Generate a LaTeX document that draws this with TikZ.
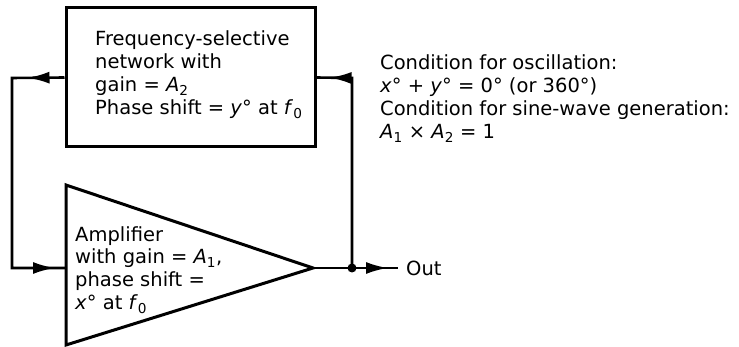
\documentclass[tikz,border=0pt]{standalone}
\usepackage{fontspec}
\setmainfont{DejaVu Sans}
\usetikzlibrary{arrows.meta,positioning,decorations.markings}

\newcommand{\ix}[2]{\textit{#1}\textsubscript{#2}}
\newcommand{\fbtip}{\arrow{Latex[length=22pt,width=12pt]}}

\begin{document}
\begin{tikzpicture}[x=1pt, y=-1pt]
    % Define styles
    \tikzstyle{block} = [draw=black, line width=3pt]
    \tikzstyle{wire} = [draw=black, line width=2.6pt, postaction=decorate]
    \tikzstyle{txt} = [inner sep=0pt, align=left, font=\fontsize{19.5}{23}\selectfont]

    \useasboundingbox (0,0) rectangle (739,347);

    % Frequency-selective network
    \node [block, rectangle, minimum width=249pt, minimum height=139pt] (filter) at (190.5,77.5) {};
    \node [txt, anchor=base west] (filtertext) at (95,115)
        {Frequency-selective\\network with\\gain = \ix{A}{2}\\Phase shift = \textit{y}° at \ix{f}{0}};

    % Amplifier
    \coordinate (amptop) at (66,185);
    \coordinate (ampbot) at (66,345);
    \coordinate (apex) at (313,268);
    \coordinate (ampin) at (66,268);
    \draw [block, line join=miter] (amptop) -- (apex) -- (ampbot) -- cycle;
    \node [txt, anchor=base west] (amptext) at (75,310)
        {Amplifier\\with gain = \ix{A}{1},\\phase shift =\\\textit{x}° at \ix{f}{0}};

    % Corners and junction
    \coordinate (tl) at (12,78);
    \coordinate (bl) at (12,268);
    \coordinate (tr) at (352,78);
    \coordinate (dot) at (352,268);
    \node [txt, anchor=west, inner xsep=8pt] (out) at (398,268) {Out};

    % Conditions
    \node [txt, anchor=base west] (conditions) at (380,139)
        {Condition for oscillation:\\\textit{x}° + \textit{y}° = 0° (or 360°)\\Condition for sine-wave generation:\\\ix{A}{1} × \ix{A}{2} = 1};

    % Connections
    \draw [wire, decoration={markings, mark=at position 37pt with {\fbtip}, mark=at position -11pt with {\fbtip}}]
        (filter.west) -- (tl) -- (bl) -- (ampin);
    \draw [wire, decoration={markings, mark=at position -13pt with {\fbtip}}]
        (dot) -- (tr) -- (filter.east);
    \draw [wire, decoration={markings, mark=at position -10pt with {\fbtip}}]
        (apex) -- (dot) -- (out.west);
    \fill (dot) circle (4.5pt);
\end{tikzpicture}
\end{document}
